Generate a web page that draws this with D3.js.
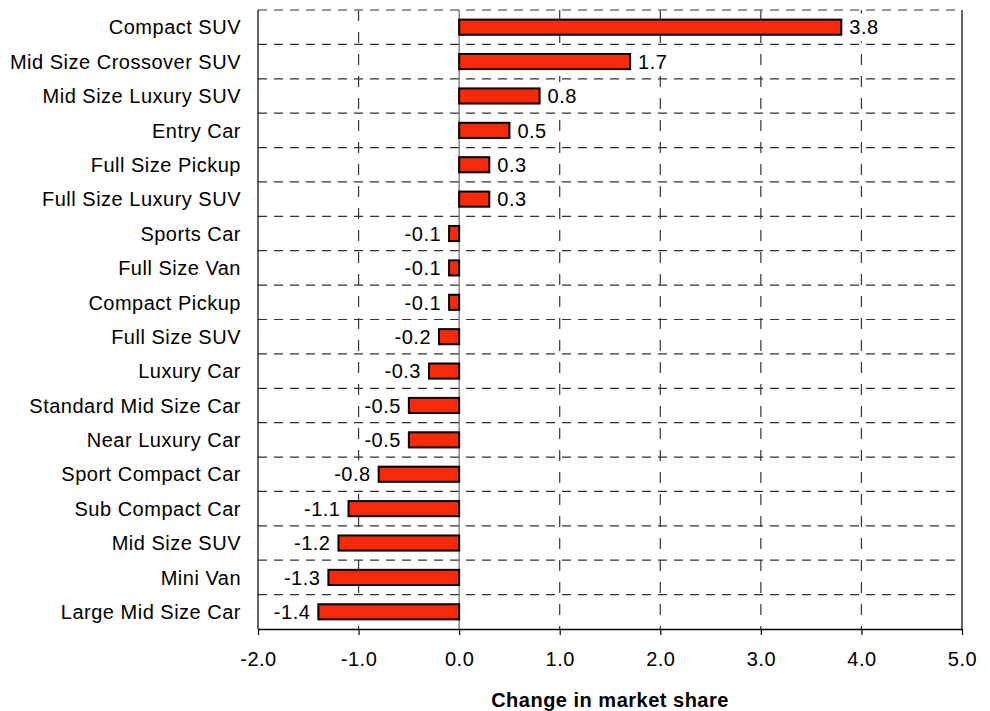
<!DOCTYPE html>
<html>
<head>
<meta charset="utf-8">
<script src="https://cdn.jsdelivr.net/npm/d3@7"></script>
<style>
  body { margin: 0; background: #fff; }
  svg text { font-family: "Liberation Sans", Arial, sans-serif; fill: #000; letter-spacing: 0.5px; }
</style>
</head>
<body>
<div id="chart"></div>
<script>
// categories top to bottom, change in market share
const categories = [
    'Compact SUV', 'Mid Size Crossover SUV', 'Mid Size Luxury SUV', 'Entry Car',
    'Full Size Pickup', 'Full Size Luxury SUV', 'Sports Car', 'Full Size Van',
    'Compact Pickup', 'Full Size SUV', 'Luxury Car', 'Standard Mid Size Car',
    'Near Luxury Car', 'Sport Compact Car', 'Sub Compact Car', 'Mid Size SUV',
    'Mini Van', 'Large Mid Size Car'
];
const values = [3.8, 1.7, 0.8, 0.5, 0.3, 0.3, -0.1, -0.1, -0.1, -0.2, -0.3, -0.5, -0.5, -0.8, -1.1, -1.2, -1.3, -1.4];
const xTicks = [-2, -1, 0, 1, 2, 3, 4, 5];

const width = 990, height = 711;
const margin = {top: 10, right: 28, bottom: 82, left: 258};
const innerW = width - margin.left - margin.right;
const innerH = height - margin.top - margin.bottom;
const fmt = v => v.toFixed(1); // plain hyphen minus like the original

const data = categories.map((c, i) => ({cat: c, value: values[i]}));

const svg = d3.select('#chart').append('svg')
    .attr('width', width)
    .attr('height', height);

const chart = svg.append('g')
    .attr('transform', `translate(${margin.left},${margin.top})`);

const xScale = d3.scaleLinear().domain([-2, 5]).range([0, innerW]);
const yScale = d3.scaleBand().domain(categories).range([0, innerH]).paddingInner(0).paddingOuter(0);
const bw = yScale.bandwidth();
const barH = bw * 0.44;

// vertical dashed gridlines
chart.selectAll('.vgrid')
    .data(xTicks.filter(t => t !== -2 && t !== 5 && t !== 0))
    .join('line')
    .attr('class', 'vgrid')
    .attr('x1', d => xScale(d)).attr('x2', d => xScale(d))
    .attr('y1', 0).attr('y2', innerH)
    .attr('stroke', '#333').attr('stroke-width', 1.2)
    .attr('stroke-dasharray', '11,11');

// horizontal dashed gridlines between categories
chart.selectAll('.hgrid')
    .data(categories.slice(1))
    .join('line')
    .attr('class', 'hgrid')
    .attr('x1', 0).attr('x2', innerW)
    .attr('y1', d => yScale(d)).attr('y2', d => yScale(d))
    .attr('stroke', '#333').attr('stroke-width', 1.2)
    .attr('stroke-dasharray', '9,7');

// top border, dashed grey
chart.append('line')
    .attr('x1', 0).attr('x2', innerW).attr('y1', 0).attr('y2', 0)
    .attr('stroke', '#777').attr('stroke-width', 1.5)
    .attr('stroke-dasharray', '9,7');

// left and right borders
chart.append('line')
    .attr('x1', 0).attr('x2', 0).attr('y1', 0).attr('y2', innerH)
    .attr('stroke', '#000').attr('stroke-width', 1.2);
chart.append('line')
    .attr('x1', innerW).attr('x2', innerW).attr('y1', 0).attr('y2', innerH)
    .attr('stroke', '#000').attr('stroke-width', 1.2);

// zero line
chart.append('line')
    .attr('x1', xScale(0)).attr('x2', xScale(0)).attr('y1', 0).attr('y2', innerH)
    .attr('stroke', '#666').attr('stroke-width', 1.2);

// value labels with white backgrounds
const labels = chart.selectAll('.val')
    .data(data)
    .join('g')
    .attr('class', 'val');

labels.each(function (d) {
    const g = d3.select(this);
    const y = yScale(d.cat) + bw / 2;
    const pos = d.value >= 0;
    const x = pos ? xScale(d.value) + 8 : xScale(d.value) - 8;
    const t = g.append('text')
        .attr('x', x).attr('y', y)
        .attr('dy', '0.36em')
        .attr('text-anchor', pos ? 'start' : 'end')
        .attr('font-size', 20)
        .text(fmt(d.value));
    const bb = t.node().getBBox();
    g.insert('rect', 'text')
        .attr('x', bb.x - 4).attr('y', bb.y - 3)
        .attr('width', bb.width + 8).attr('height', bb.height + 6)
        .attr('fill', '#fff');
});

// bars
chart.selectAll('.bar')
    .data(data)
    .join('rect')
    .attr('class', 'bar')
    .attr('x', d => xScale(Math.min(0, d.value)))
    .attr('y', d => yScale(d.cat) + (bw - barH) / 2)
    .attr('width', d => Math.abs(xScale(d.value) - xScale(0)))
    .attr('height', barH)
    .attr('fill', '#f62a09')
    .attr('stroke', '#000')
    .attr('stroke-width', 2);

// x axis
const xAxis = d3.axisBottom(xScale)
    .tickValues(xTicks)
    .tickFormat(fmt)
    .tickSizeInner(6)
    .tickSizeOuter(0)
    .tickPadding(17);

const xAxisG = chart.append('g')
    .attr('transform', `translate(0,${innerH})`)
    .call(xAxis);
xAxisG.select('.domain').attr('stroke', '#000').attr('stroke-width', 1.5);
xAxisG.selectAll('.tick line').attr('stroke', '#000').attr('stroke-width', 1.2);
xAxisG.selectAll('.tick text')
    .attr('font-size', 20)
    .attr('font-family', '"Liberation Sans", Arial, sans-serif');

// category labels
chart.selectAll('.cat')
    .data(categories)
    .join('text')
    .attr('class', 'cat')
    .attr('x', -17)
    .attr('y', d => yScale(d) + bw / 2)
    .attr('dy', '0.36em')
    .attr('text-anchor', 'end')
    .attr('font-size', 20)
    .text(d => d);

// axis title
svg.append('text')
    .attr('x', margin.left + xScale(1.5))
    .attr('y', 707)
    .attr('text-anchor', 'middle')
    .attr('font-size', 20)
    .attr('font-weight', 'bold')
    .text('Change in market share');
</script>
</body>
</html>
